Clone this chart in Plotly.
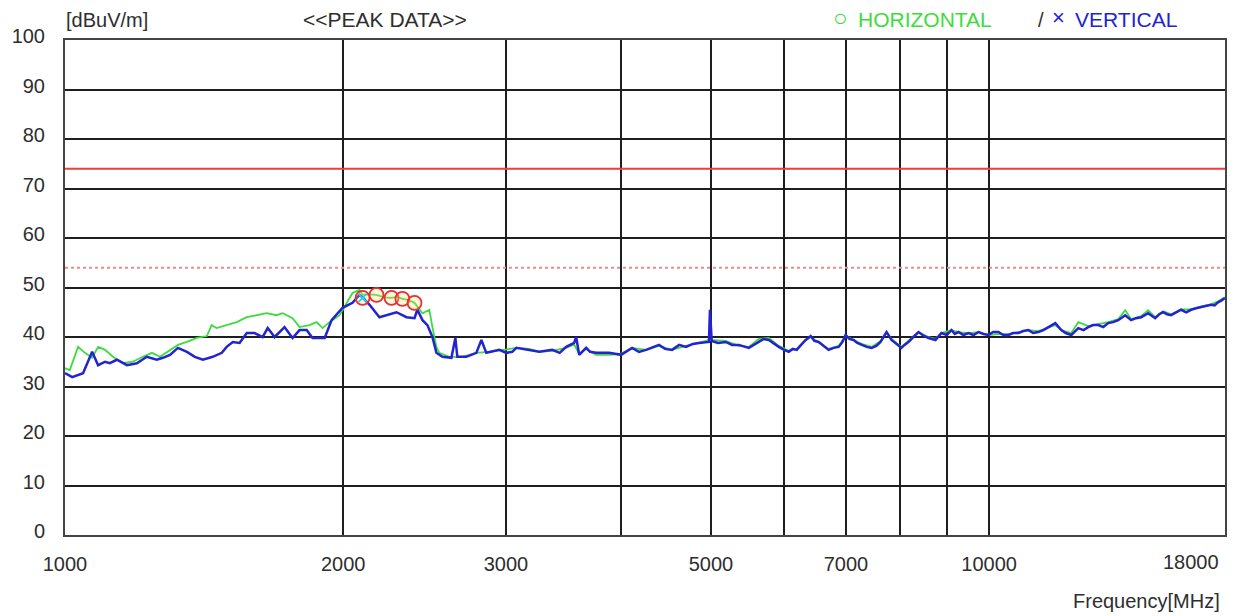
import plotly.graph_objects as go
import math

# ---------------- data ----------------
freq_h = [1000, 1012, 1033, 1051, 1070, 1086, 1105, 1127, 1155, 1184, 1214, 1242, 1267, 1299, 1325,
          1355, 1389, 1424, 1441, 1459, 1496, 1534, 1573, 1612, 1653, 1694, 1720, 1763, 1794, 1839,
          1872, 1900, 1933, 1982, 2047, 2083, 2099, 2135, 2173, 2215, 2256, 2290, 2318, 2350, 2389,
          2437, 2479, 2498, 2523, 2542, 2606, 2691, 2787, 2878, 2973, 3079, 3180, 3260, 3367, 3486,
          3556, 3600, 3664, 3756, 3880, 3997, 4108, 4254, 4393, 4538, 4699, 4853, 4988, 5188, 5360,
          5495, 5634, 5776, 5921, 6070, 6192, 6332, 6411, 6540, 6704, 6873, 6994, 7135, 7278, 7461,
          7630, 7745, 7842, 8038, 8180, 8387, 8598, 8750, 8881, 9105, 9265, 9499, 9738, 9983, 10235,
          10493, 10757, 11028, 11305, 11590, 11793, 11971, 12273, 12489, 12803, 13126, 13456, 13795,
          14037, 14248, 14607, 14864, 15124, 15428, 15738, 16135, 16541, 16958, 17384, 17690, 18000]
level_h = [33.7, 33.3, 38.0, 36.8, 35.8, 38.0, 37.4, 36.0, 34.7, 35.0, 36.0, 36.8, 36.0, 37.4, 38.4,
           39.0, 39.8, 40.2, 42.4, 41.8, 42.4, 43.0, 44.0, 44.4, 44.8, 44.4, 44.8, 43.8, 42.0, 42.4,
           43.0, 41.8, 43.0, 44.4, 48.9, 49.5, 48.5, 48.6, 48.5, 48.0, 47.9, 48.1, 47.7, 47.5, 46.9,
           44.8, 45.5, 42.0, 38.0, 36.8, 36.0, 36.0, 36.8, 37.0, 37.4, 37.8, 37.6, 37.0, 37.2, 37.8,
           38.5, 36.6, 37.6, 36.4, 36.4, 36.6, 37.8, 37.4, 38.2, 37.4, 38.2, 38.8, 39.4, 39.2, 38.2,
           38.0, 39.6, 39.8, 38.2, 37.2, 37.6, 39.4, 40.0, 39.0, 37.6, 38.2, 40.2, 39.4, 38.6, 38.0,
           39.2, 41.0, 39.6, 38.0, 39.2, 41.0, 40.0, 39.6, 40.8, 41.4, 41.0, 40.8, 41.0, 40.4, 40.6,
           40.6, 41.0, 41.4, 41.2, 42.0, 42.4, 41.4, 40.8, 43.0, 42.2, 42.6, 43.0, 43.6,
           45.4, 43.6, 44.2, 45.4, 44.0, 45.2, 44.6, 45.6, 45.6, 46.2, 46.6, 47.2, 48.0]

freq_v = [1000, 1018, 1046, 1070, 1086, 1105, 1118, 1138, 1167, 1196, 1226, 1257, 1276, 1299, 1325,
          1355, 1382, 1410, 1445, 1478, 1496, 1519, 1545, 1573, 1604, 1636, 1657, 1686, 1728, 1763,
          1794, 1826, 1853, 1910, 1943, 1997, 2047, 2083, 2099, 2136, 2189, 2228, 2284, 2342, 2389,
          2406, 2437, 2467, 2498, 2523, 2561, 2619, 2645, 2658, 2718, 2787, 2822, 2857, 2951, 3003,
          3048, 3079, 3156, 3180, 3260, 3367, 3430, 3486, 3556, 3574, 3601, 3664, 3700, 3756, 3880,
          3997, 4108, 4180, 4254, 4393, 4460, 4538, 4620, 4699, 4780, 4853, 4938, 4975, 4988, 5010,
          5090, 5188, 5270, 5360, 5495, 5560, 5634, 5700, 5776, 5850, 5921, 6000, 6070, 6130, 6192,
          6260, 6332, 6411, 6470, 6540, 6620, 6704, 6790, 6873, 6940, 6994, 7060, 7135, 7200, 7278,
          7370, 7461, 7550, 7630, 7745, 7842, 7940, 8038, 8100, 8180, 8280, 8387, 8500, 8598, 8750,
          8820, 8881, 9000, 9105, 9180, 9265, 9380, 9499, 9620, 9738, 9860, 9983, 10100, 10235,
          10360, 10493, 10620, 10757, 10890, 11028, 11160, 11305, 11450, 11590, 11793, 11971, 12100,
          12273, 12380, 12489, 12650, 12803, 12960, 13126, 13290, 13456, 13620, 13795, 14037, 14248,
          14420, 14607, 14740, 14864, 15124, 15280, 15428, 15580, 15738, 15940, 16135, 16340, 16541,
          16750, 16958, 17170, 17384, 17540, 17690, 17850, 18000]
level_v = [32.7, 31.9, 32.7, 37.0, 34.3, 35.0, 34.7, 35.4, 34.3, 34.7, 36.0, 35.4, 35.8, 36.4, 37.8,
           37.0, 36.0, 35.4, 36.0, 36.8, 38.0, 39.0, 38.8, 40.8, 40.8, 40.0, 41.8, 40.0, 42.0, 39.8,
           41.4, 41.4, 39.8, 39.8, 43.4, 45.9, 46.9, 48.5, 48.0, 46.5, 44.0, 44.4, 45.0, 44.0, 43.8,
           45.5, 43.4, 42.4, 40.0, 36.8, 36.0, 35.8, 39.8, 36.0, 36.0, 36.8, 39.4, 36.8, 37.4, 36.8,
           37.0, 37.8, 37.4, 37.4, 37.0, 37.4, 36.8, 38.0, 38.8, 40.0, 36.4, 37.8, 37.0, 36.8, 36.8,
           36.4, 37.8, 37.0, 37.4, 38.4, 37.6, 37.4, 38.4, 38.0, 38.6, 38.8, 39.0, 39.0, 45.5, 39.2,
           38.8, 39.0, 38.4, 38.4, 37.8, 38.4, 39.0, 39.6, 39.4, 38.6, 38.0, 37.4, 37.0, 37.6, 37.4,
           38.4, 39.4, 40.2, 39.2, 39.0, 38.2, 37.4, 37.8, 38.0, 39.0, 40.4, 39.6, 39.4, 38.8, 38.4,
           38.0, 37.8, 38.2, 39.0, 41.0, 39.4, 38.6, 37.8, 38.4, 39.0, 40.0, 41.0, 40.2, 39.8, 39.4,
           40.2, 40.8, 40.4, 41.4, 40.6, 41.0, 40.4, 40.8, 40.4, 41.0, 40.6, 40.4, 41.0, 41.0,
           40.4, 40.4, 40.8, 40.8, 41.2, 41.4, 40.8, 41.0, 41.4, 42.0, 42.8, 41.4, 40.8,
           40.4, 41.2, 41.8, 41.4, 42.0, 42.4, 42.4, 42.0, 42.8, 43.0, 43.4, 44.4, 43.4,
           43.8, 44.0, 44.4, 44.8, 43.8, 44.6, 45.0, 44.6, 44.4, 45.0, 45.5, 45.0, 45.5,
           45.8, 46.0, 46.2, 46.5, 46.4, 47.0, 47.4, 47.9]

peak_freq = [2099, 2173, 2256, 2318, 2389]
peak_level = [47.9, 48.5, 47.9, 47.7, 46.9]

limit_peak = 74
limit_avg = 54

x_tick_vals = [1000, 2000, 3000, 4000, 5000, 6000, 7000, 8000, 9000, 10000]
x_tick_text = ["1000", "2000", "3000", "", "5000", "", "7000", "", "", "10000"]
x_end_label = "18000"
y_tick_vals = list(range(0, 101, 10))

# ---------------- figure ----------------
FONT = "Liberation Sans, Arial, sans-serif"
TXT = "#2e2e2e"
GREEN = "#3ddc3d"
BLUE = "#2323d2"

fig = go.Figure()
fig.add_trace(go.Scatter(x=[1000, 18000], y=[limit_avg, limit_avg], mode="lines",
                         line=dict(color="#f08a8a", width=2, dash="dot"), showlegend=False))
fig.add_trace(go.Scatter(x=[1000, 18000], y=[limit_peak, limit_peak], mode="lines",
                         line=dict(color="#f03c3c", width=2), showlegend=False))
fig.add_trace(go.Scatter(x=freq_h, y=level_h, mode="lines",
                         line=dict(color=GREEN, width=1.8), showlegend=False))
fig.add_trace(go.Scatter(x=freq_v, y=level_v, mode="lines",
                         line=dict(color=BLUE, width=2.5), showlegend=False))
fig.add_trace(go.Scatter(x=peak_freq, y=peak_level, mode="markers",
                         marker=dict(symbol="circle", size=14, color="rgba(255,220,120,0.25)",
                                     line=dict(width=1.8, color="#e83030")),
                         showlegend=False))
fig.add_trace(go.Scatter(x=peak_freq[:1], y=peak_level[:1], mode="markers",
                         marker=dict(symbol="x-thin-open", size=8,
                                     line=dict(width=1.5, color="#6a3050")),
                         showlegend=False))

xr = [3, math.log10(18000)]
fig.update_layout(
    width=1236, height=616,
    margin=dict(l=65, r=9, t=40, b=81),
    paper_bgcolor="white", plot_bgcolor="white",
    font=dict(family=FONT, size=19, color=TXT),
    xaxis=dict(type="log", range=xr, tickvals=x_tick_vals, ticktext=x_tick_text,
               showgrid=True, gridcolor="#1e1e1e", gridwidth=2, zeroline=False,
               showline=True, linecolor="#444444", linewidth=2, mirror=True,
               ticks="", ticklabelstandoff=10, tickfont=dict(size=20, color=TXT)),
    yaxis=dict(range=[0, 100], tickvals=y_tick_vals, showgrid=True, gridcolor="#1e1e1e",
               gridwidth=2, zeroline=False, showline=True, linecolor="#444444", linewidth=2,
               mirror=True, ticks="", ticklabelstandoff=14, ticklabelshift=-4,
               tickfont=dict(size=20, color=TXT)),
)

PW, PH, L, B = 1162.0, 495.0, 65.0, 535.0


def px(x):
    return (x - L) / PW


def py(y):
    return (B - y) / PH


ann = [
    dict(text=x_end_label, x=1, y=py(562), xanchor="right", yanchor="middle", xshift=-4,
         font=dict(size=20, color=TXT)),
    dict(text="Frequency[MHz]", x=px(1224), y=py(601), xanchor="right", yanchor="middle",
         font=dict(size=20, color=TXT)),
    dict(text="[dBuV/m]", x=px(64), y=py(20), xanchor="left", yanchor="middle",
         font=dict(size=20, color=TXT)),
    dict(text="<<PEAK DATA>>", x=px(301), y=py(20), xanchor="left", yanchor="middle",
         font=dict(size=21, color=TXT)),
    dict(text="○", x=px(832), y=py(18), xanchor="left", yanchor="middle",
         font=dict(size=24, color=GREEN)),
    dict(text="HORIZONTAL", x=px(857), y=py(20), xanchor="left", yanchor="middle",
         font=dict(size=21, color=GREEN)),
    dict(text="/", x=px(1038), y=py(20), xanchor="left", yanchor="middle",
         font=dict(size=20, color=TXT)),
    dict(text="×", x=px(1052), y=py(18), xanchor="left", yanchor="middle",
         font=dict(size=22, color=BLUE)),
    dict(text="VERTICAL", x=px(1075), y=py(20), xanchor="left", yanchor="middle",
         font=dict(size=21, color=BLUE)),
]
for a in ann:
    a.update(xref="paper", yref="paper", showarrow=False)
    fig.add_annotation(**a)

fig.write_html("out.html")
